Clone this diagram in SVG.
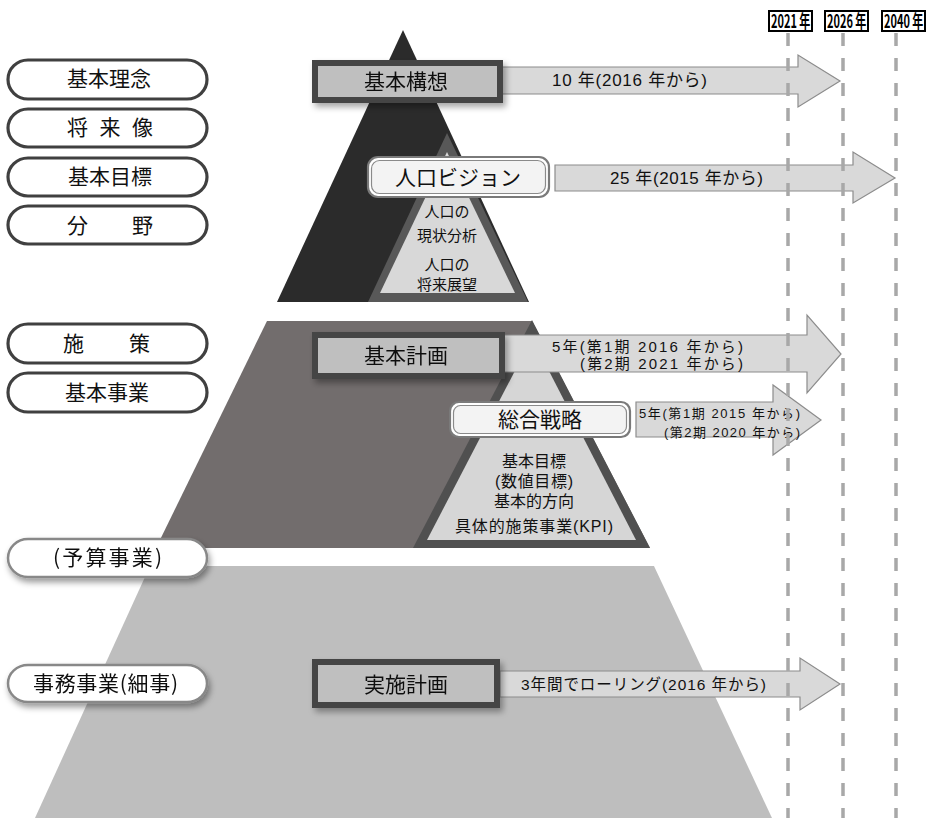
<svg xmlns="http://www.w3.org/2000/svg" width="927" height="818" viewBox="0 0 927 818">
<defs>
<style>
.jp{font-family:"Noto Sans CJK JP","Noto Sans",sans-serif;fill:#111}
.lj{font-family:"Liberation Sans","Noto Sans CJK JP",sans-serif;fill:#111}
.pill{fill:#fff;stroke:#404040;stroke-width:3.2}
.pill2{fill:#fff;stroke:#888;stroke-width:2.5}
.pt{font-size:21px;text-anchor:middle}
.box{fill:#bfbfbf;stroke:#454545;stroke-width:6}
.bt{font-size:21px;text-anchor:middle}
.rbo{fill:#fff;stroke:#7a7a7a;stroke-width:2.2}
.rbi{fill:#f3f3f3;stroke:#8a8a8a;stroke-width:1.2}
.arr{fill:#d9d9d9;stroke:#8c8c8c;stroke-width:1.2}
.tri{font-size:15px;text-anchor:middle}
.dash{stroke:#a8a8a8;stroke-width:3.5;stroke-dasharray:13 12;fill:none}
.yb{fill:#fff;stroke:#000;stroke-width:2}
.yt{font-family:"Noto Sans CJK JP","Liberation Sans",sans-serif;font-weight:bold;font-size:18px;fill:#000}
</style>
<filter id="sh" x="-10%" y="-20%" width="130%" height="160%">
<feDropShadow dx="3" dy="4" stdDeviation="3" flood-color="#000" flood-opacity="0.35"/>
</filter>
<filter id="sh2" x="-10%" y="-20%" width="130%" height="160%">
<feDropShadow dx="2" dy="4" stdDeviation="3" flood-color="#000" flood-opacity="0.4"/>
</filter>
</defs>

<!-- pyramid layers -->
<g id="layer-top">
<polygon points="403,30 277,302 529,302" fill="#2b2b2b"/>
<polygon points="447,133 368,302 528,302" fill="#585858"/>
<polygon points="447,152 380,293 515,293" fill="#d8d8d8"/>
</g>
<g id="layer-middle">
<polygon points="267,321 532,321 650,548 156,548" fill="#726d6d"/>
<polygon points="532,320 413,548 650,548" fill="#505050"/>
<polygon points="532,338 427,540 636,540" fill="#d6d6d6"/>
</g>
<g id="layer-bottom">
<polygon points="150,566 654,566 772,818 35,818" fill="#bebebe"/>
</g>

<!-- connectors: timeline arrows -->
<g id="connectors">
<polygon class="arr" points="500,67 798,67 798,55 840,81 798,107 798,94 500,94"/>
<polygon class="arr" points="555,165 853,165 853,152 895,178 853,203 853,191 555,191"/>
<polygon class="arr" points="502,335 807,335 807,315 841,354 807,393 807,372 502,372"/>
<polygon class="arr" points="636,402 773,402 773,385 821,420 773,455 773,437 636,437"/>
<polygon class="arr" points="500,671 800,671 800,658 840,684 800,710 800,697 500,697"/>
</g>

<g id="arrow-labels">
<text class="lj" font-size="17" x="552" y="86" textLength="155">10 年(2016 年から)</text>
<text class="lj" font-size="17" x="610" y="184" textLength="153">25 年(2015 年から)</text>
<text class="lj" font-size="15" x="552" y="352" textLength="191">5年(第1期 2016 年から)</text>
<text class="lj" font-size="15" x="580" y="369" textLength="163">(第2期 2021 年から)</text>
<text class="lj" font-size="13" x="639" y="418" textLength="161">5年(第1期 2015 年から)</text>
<text class="lj" font-size="13" x="664" y="437" textLength="136">(第2期 2020 年から)</text>
<text class="lj" font-size="15.5" x="521" y="690" textLength="245">3年間でローリング(2016 年から)</text>
</g>

<!-- timeline -->
<g id="timeline">
<line class="dash" x1="788" y1="33" x2="788" y2="818"/>
<line class="dash" x1="843" y1="33" x2="843" y2="818"/>
<line class="dash" x1="896" y1="33" x2="896" y2="818"/>
<g id="y2021"><rect class="yb" x="769" y="11" width="43" height="20"/><text class="yt" transform="translate(771,27.5) scale(0.61,1)">2021 年</text></g>
<g id="y2026"><rect class="yb" x="825" y="11" width="43" height="20"/><text class="yt" transform="translate(827,27.5) scale(0.61,1)">2026 年</text></g>
<g id="y2040"><rect class="yb" x="882" y="11" width="43" height="20"/><text class="yt" transform="translate(884,27.5) scale(0.61,1)">2040 年</text></g>
</g>

<!-- plan boxes -->
<g id="kihon-koso" filter="url(#sh)">
<rect class="box" x="315" y="63" width="185" height="37"/>
<text class="jp bt" x="406" y="89">基本構想</text>
</g>
<g id="jinko-vision">
<rect class="rbo" x="368" y="157" width="181" height="40" rx="10"/>
<rect class="rbi" x="371.5" y="160.5" width="174" height="33" rx="8"/>
<text class="jp" font-size="21" x="458" y="185" text-anchor="middle">人口ビジョン</text>
</g>
<g id="jinko-text">
<text class="lj tri" x="447" y="217">人口の</text>
<text class="lj tri" x="447" y="241">現状分析</text>
<text class="lj tri" x="447" y="270">人口の</text>
<text class="lj tri" x="447" y="290">将来展望</text>
</g>
<g id="kihon-keikaku" filter="url(#sh)">
<rect class="box" x="315" y="335" width="187" height="41"/>
<text class="jp bt" x="406" y="363">基本計画</text>
</g>
<g id="sogo-senryaku">
<rect class="rbo" x="450" y="402" width="180" height="35" rx="9"/>
<rect class="rbi" x="453.5" y="405.5" width="173" height="28" rx="7"/>
<text class="jp" font-size="21" x="540" y="427" text-anchor="middle">総合戦略</text>
</g>
<g id="sogo-text">
<text class="lj" font-size="16" x="534" y="467" text-anchor="middle">基本目標</text>
<text class="lj" font-size="16" x="534" y="487" text-anchor="middle" textLength="78">(数値目標)</text>
<text class="lj" font-size="16" x="534" y="507" text-anchor="middle">基本的方向</text>
<text class="lj" font-size="16" x="534" y="532" text-anchor="middle" textLength="158">具体的施策事業(KPI)</text>
</g>
<g id="jisshi-keikaku" filter="url(#sh)">
<rect class="box" x="315" y="662" width="182" height="43"/>
<text class="jp bt" x="406" y="692">実施計画</text>
</g>

<!-- left labels -->
<g id="p-rinen"><rect class="pill" x="8" y="60" width="199" height="39" rx="20"/><text class="jp pt" x="109" y="86">基本理念</text></g>
<g id="p-shoraizo"><rect class="pill" x="8" y="109" width="199" height="38" rx="20"/><text class="jp" font-size="21" x="67" y="135" textLength="86">将 来 像</text></g>
<g id="p-mokuhyo"><rect class="pill" x="8" y="158" width="199" height="38" rx="20"/><text class="jp pt" x="110" y="184">基本目標</text></g>
<g id="p-bunya"><rect class="pill" x="8" y="206" width="199" height="38" rx="20"/><text class="jp" font-size="21" x="67" y="233" textLength="86">分　　野</text></g>
<g id="p-shisaku"><rect class="pill" x="8" y="324" width="199" height="39" rx="20"/><text class="jp" font-size="21" x="63" y="351" textLength="87">施　　策</text></g>
<g id="p-jigyo"><rect class="pill" x="8" y="373" width="199" height="39" rx="20"/><text class="jp pt" x="107" y="400">基本事業</text></g>
<g id="p-yosan" filter="url(#sh2)"><rect class="pill2" x="8" y="539" width="199" height="38" rx="20"/><text class="jp" font-size="21" x="53" y="565" textLength="109">(予算事業)</text></g>
<g id="p-jimu" filter="url(#sh2)"><rect class="pill2" x="8" y="665" width="199" height="37" rx="20"/><text class="jp" font-size="21" x="33" y="691" textLength="145">事務事業(細事)</text></g>
</svg>
